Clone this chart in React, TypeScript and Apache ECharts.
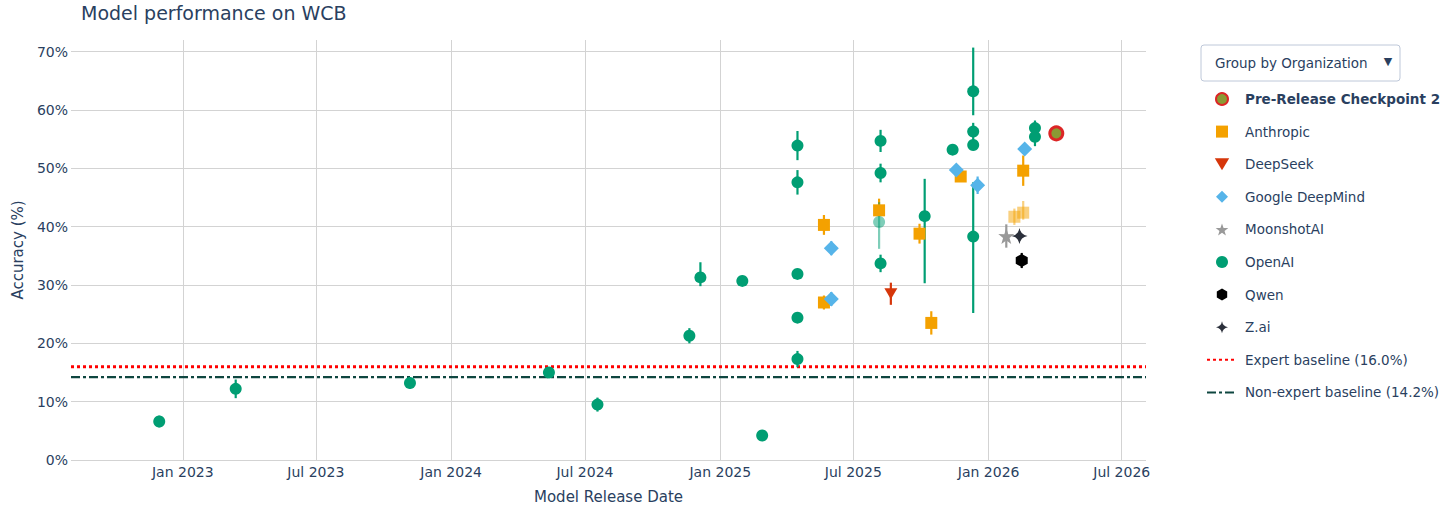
import React, { useEffect, useRef } from 'react';
import * as echarts from 'echarts';

const FONT = '"DejaVu Sans", Verdana, sans-serif';
const TEXT = '#2a3f5f';

// ---------- axis ticks ----------
const xTickDates = ['2023-01-01', '2023-07-01', '2024-01-01', '2024-07-01', '2025-01-01', '2025-07-01', '2026-01-01', '2026-07-01'];
const yTicks = [0, 10, 20, 30, 40, 50, 60, 70];
const xMinDate = '2022-08-02';
const xMaxDate = '2026-08-03';
const yMin = 0;
const yMax = 72;

// ---------- data ----------
const preName = 'Pre-Release Checkpoint 2';
const preDates = ['2026-04-03'];
const preValues = [56.0];

const anthropicDates = ['2025-05-22', '2025-05-22', '2025-08-05', '2025-09-29', '2025-10-15', '2025-11-24', '2026-02-17', '2026-02-05', '2026-02-17'];
const anthropicValues = [40.3, 27.0, 42.8, 38.8, 23.5, 48.6, 49.6, 41.7, 42.4];
const anthropicPlus = [1.7, 1.2, 2.0, 1.7, 2.0, 0.6, 2.6, 1.4, 2.0];
const anthropicMinus = [1.7, 1.2, 1.0, 1.7, 2.0, 0.6, 2.6, 1.4, 1.2];
const anthropicFaded = [0, 0, 0, 0, 0, 0, 0, 1, 1];

const deepseekDates = ['2025-08-21'];
const deepseekValues = [28.5];
const deepseekPlus = [1.9];
const deepseekMinus = [1.9];

const googleDates = ['2025-06-01', '2025-06-01', '2025-11-18', '2025-12-17', '2026-02-19'];
const googleValues = [36.3, 27.6, 49.7, 47.1, 53.3];
const googlePlus = [1.2, 1.2, 0.6, 1.5, 0.5];
const googleMinus = [1.2, 1.2, 0.6, 1.5, 0.5];

const moonshotDates = ['2026-01-25'];
const moonshotValues = [38.4];
const moonshotPlus = [2.0];
const moonshotMinus = [2.0];

const openaiDates = ['2022-11-30', '2023-03-14', '2023-11-06', '2024-05-13', '2024-07-18', '2024-11-20', '2024-12-05', '2025-01-31', '2025-02-27',
  '2025-04-16', '2025-04-16', '2025-04-16', '2025-04-16', '2025-04-16', '2025-08-07', '2025-08-07', '2025-08-05', '2025-08-07',
  '2025-10-06', '2025-11-13', '2025-12-11', '2025-12-11', '2025-12-11', '2025-12-11', '2026-03-05', '2026-03-05'];
const openaiValues = [6.6, 12.2, 13.2, 15.0, 9.5, 21.3, 31.3, 30.7, 4.2, 53.9, 47.6, 31.9, 24.4, 17.3, 54.7, 49.2, 40.8, 33.7, 41.8, 53.2, 63.2, 56.3, 54.0, 38.3, 56.9, 55.4];
const openaiPlus = [1.0, 1.6, 1.0, 0.6, 1.2, 1.3, 2.6, 0.6, 0, 2.5, 2.1, 0.6, 0.7, 1.4, 1.9, 1.6, 3.4, 1.5, 6.4, 0.5, 7.5, 1.5, 0.5, 9.3, 1.3, 1.6];
const openaiMinus = [1.0, 1.6, 1.0, 0.6, 1.2, 1.3, 1.5, 0.6, 0, 2.5, 2.1, 0.6, 0.7, 1.4, 1.9, 1.6, 4.6, 1.5, 11.5, 0.5, 4.1, 1.5, 0.5, 13.1, 0.8, 1.6];
const openaiFaded = [0, 0, 0, 0, 0, 0, 0, 0, 0, 0, 0, 0, 0, 0, 0, 0, 1, 0, 0, 0, 0, 0, 0, 0, 0, 0];

const qwenDates = ['2026-02-15'];
const qwenValues = [34.2];
const qwenPlus = [1.3];
const qwenMinus = [1.3];

const zaiDates = ['2026-02-12'];
const zaiValues = [38.4];
const zaiPlus = [0.8];
const zaiMinus = [0.8];

const expertName = 'Expert baseline (16.0%)';
const expertValue = 16.0;
const nonExpertName = 'Non-expert baseline (14.2%)';
const nonExpertValue = 14.2;

// ---------- helpers ----------
const t = (d: string) => Date.parse(d + 'T00:00:00Z');

type Org = {
  name: string;
  dates: string[];
  values: number[];
  plus?: number[];
  minus?: number[];
  faded?: number[];
  color: string;
  symbol: string;
  size: number | number[];
  extraItem?: any;
};

const SQUARE = 'path://M0,0H10V10H0Z';
const DIAMOND = 'path://M50,0L100,50L50,100L0,50Z';
const TRI_DOWN = 'path://M0,0L12,0L6,10Z';
const STAR = 'path://M50,0L61.8,35.1L97.6,34.5L69.1,56.7L79.4,90.5L50,70L20.6,90.5L30.9,56.7L2.4,34.5L38.2,35.1Z';
const HEXAGON = 'path://M50,0L93.3,25L93.3,75L50,100L6.7,75L6.7,25Z';
const STAR4 = 'path://M50,0Q57,43 100,50Q57,57 50,100Q43,57 0,50Q43,43 50,0Z';

const orgs: Org[] = [
  { name: preName, dates: preDates, values: preValues, color: '#8a9a34', symbol: 'circle', size: 13,
    extraItem: { borderColor: '#dc2626', borderWidth: 3 } },
  { name: 'Anthropic', dates: anthropicDates, values: anthropicValues, plus: anthropicPlus, minus: anthropicMinus, faded: anthropicFaded,
    color: '#F4A100', symbol: SQUARE, size: 12 },
  { name: 'DeepSeek', dates: deepseekDates, values: deepseekValues, plus: deepseekPlus, minus: deepseekMinus,
    color: '#D6360A', symbol: TRI_DOWN, size: [13, 11] },
  { name: 'Google DeepMind', dates: googleDates, values: googleValues, plus: googlePlus, minus: googleMinus,
    color: '#56B4E9', symbol: DIAMOND, size: 15 },
  { name: 'MoonshotAI', dates: moonshotDates, values: moonshotValues, plus: moonshotPlus, minus: moonshotMinus,
    color: '#999999', symbol: STAR, size: 16 },
  { name: 'OpenAI', dates: openaiDates, values: openaiValues, plus: openaiPlus, minus: openaiMinus, faded: openaiFaded,
    color: '#009E73', symbol: 'circle', size: 12 },
  { name: 'Qwen', dates: qwenDates, values: qwenValues, plus: qwenPlus, minus: qwenMinus,
    color: '#000000', symbol: HEXAGON, size: [12, 13] },
  { name: 'Z.ai', dates: zaiDates, values: zaiValues, plus: zaiPlus, minus: zaiMinus,
    color: '#2b303b', symbol: STAR4, size: 16 },
];

function buildOption() {
  const series: any[] = [];
  const xMin = t(xMinDate);
  const xMax = t(xMaxDate);

  series.push({
    name: expertName,
    type: 'line',
    data: [[xMin, expertValue], [xMax, expertValue]],
    symbol: 'none',
    lineStyle: { color: '#ff0000', width: 3, type: [3, 3] },
    itemStyle: { color: '#ff0000' },
    z: 1,
    silent: true,
  });
  series.push({
    name: nonExpertName,
    type: 'line',
    data: [[xMin, nonExpertValue], [xMax, nonExpertValue]],
    symbol: 'none',
    lineStyle: { color: '#0e4640', width: 2.2, type: [9, 3, 3, 3] },
    itemStyle: { color: '#0e4640' },
    z: 1,
    silent: true,
  });

  orgs.forEach((o) => {
    if (o.plus) {
      const errData = o.dates.map((d, i) => [t(d), o.values[i] - (o.minus ? o.minus[i] : 0), o.values[i] + o.plus![i], o.faded && o.faded[i] ? 0.5 : 1]);
      const color = o.color;
      series.push({
        name: o.name + ' error',
        type: 'custom',
        data: errData,
        z: 2,
        silent: true,
        renderItem: (params: any, api: any) => {
          const x = api.value(0);
          const lo = api.value(1);
          const hi = api.value(2);
          const op = api.value(3);
          const p1 = api.coord([x, lo]);
          const p2 = api.coord([x, hi]);
          return {
            type: 'line',
            shape: { x1: p1[0], y1: p1[1], x2: p2[0], y2: p2[1] },
            style: { stroke: color, lineWidth: 2.2, opacity: op },
          };
        },
      });
    }
  });

  orgs.forEach((o) => {
    series.push({
      name: o.name,
      type: 'scatter',
      symbol: o.symbol,
      symbolSize: o.size,
      z: 3,
      itemStyle: { color: o.color, opacity: 1, ...(o.extraItem || {}) },
      data: o.dates.map((d, i) => {
        const item: any = { value: [t(d), o.values[i]] };
        if (o.faded && o.faded[i]) item.itemStyle = { opacity: 0.5 };
        return item;
      }),
    });
  });

  const legendData: any[] = [
    ...orgs.map((o) => ({ name: o.name })),
    { name: expertName, itemStyle: { opacity: 0 } },
    { name: nonExpertName, itemStyle: { opacity: 0 } },
  ];

  return {
    animation: false,
    textStyle: { fontFamily: FONT },
    title: {
      text: 'Model performance on WCB',
      left: 81,
      top: 3,
      padding: 0,
      textStyle: { color: TEXT, fontSize: 19, fontWeight: 'normal', fontFamily: FONT },
    },
    grid: { left: 71, right: 310, top: 40, bottom: 47, containLabel: false, outerBoundsMode: 'none' },
    legend: {
      data: legendData,
      orient: 'vertical',
      left: 1206,
      top: 92,
      padding: 0,
      itemWidth: 30,
      itemHeight: 12,
      itemGap: 18.6,
      selectedMode: false,
      formatter: (name: string) => (name === preName ? `{b|${name}}` : name),
      textStyle: {
        color: TEXT,
        fontSize: 13.5,
        fontFamily: FONT,
        lineHeight: 14,
        padding: [0, 0, 0, 3],
        rich: { b: { fontWeight: 'bold', color: TEXT, fontSize: 13.5, fontFamily: FONT, lineHeight: 14 } },
      },
    },
    xAxis: {
      type: 'value',
      min: xMin,
      max: xMax,
      name: 'Model Release Date',
      nameLocation: 'middle',
      nameGap: 29,
      nameTextStyle: { color: TEXT, fontSize: 15, fontFamily: FONT },
      axisLine: { show: false },
      axisTick: { show: false, customValues: xTickDates.map(t) },
      axisLabel: {
        customValues: xTickDates.map(t),
        color: TEXT,
        fontSize: 14,
        fontFamily: FONT,
        margin: 5,
        formatter: (v: number) => {
          const d = new Date(v);
          return (d.getUTCMonth() === 0 ? 'Jan ' : 'Jul ') + d.getUTCFullYear();
        },
      },
      splitLine: { show: true, lineStyle: { color: '#d3d3d3', width: 1 } },
    },
    yAxis: {
      type: 'value',
      min: yMin,
      max: yMax,
      name: 'Accuracy (%)',
      nameLocation: 'middle',
      nameGap: 39,
      nameTextStyle: { color: TEXT, fontSize: 15, fontFamily: FONT },
      axisLine: { show: false },
      axisTick: { show: false, customValues: yTicks },
      axisLabel: {
        customValues: yTicks,
        color: TEXT,
        fontSize: 14,
        fontFamily: FONT,
        margin: 3,
        formatter: (v: number) => `${v}%`,
      },
      splitLine: { show: true, lineStyle: { color: '#d3d3d3', width: 1 } },
    },
    graphic: [
      {
        type: 'rect',
        shape: { x: 1201, y: 45, width: 199, height: 36, r: 3 },
        style: { fill: '#ffffff', stroke: '#bec8d9', lineWidth: 1 },
        z: 10,
      },
      {
        type: 'text',
        x: 1215,
        y: 63,
        style: { text: 'Group by Organization', fill: TEXT, fontSize: 13.5, fontFamily: FONT, verticalAlign: 'middle', align: 'left' },
        z: 11,
      },
      {
        type: 'text',
        x: 1388,
        y: 61,
        style: { text: '▼', fill: TEXT, fontSize: 11, fontFamily: FONT, verticalAlign: 'middle', align: 'center' },
        z: 11,
      },
    ],
    series,
  };
}

export default function App() {
  const ref = useRef<HTMLDivElement>(null);
  useEffect(() => {
    document.body.style.margin = '0';
    const chart = echarts.init(ref.current!, null, { renderer: 'svg' });
    chart.setOption(buildOption() as any);
    return () => chart.dispose();
  }, []);
  return <div ref={ref} style={{ width: 1456, height: 507 }} />;
}
